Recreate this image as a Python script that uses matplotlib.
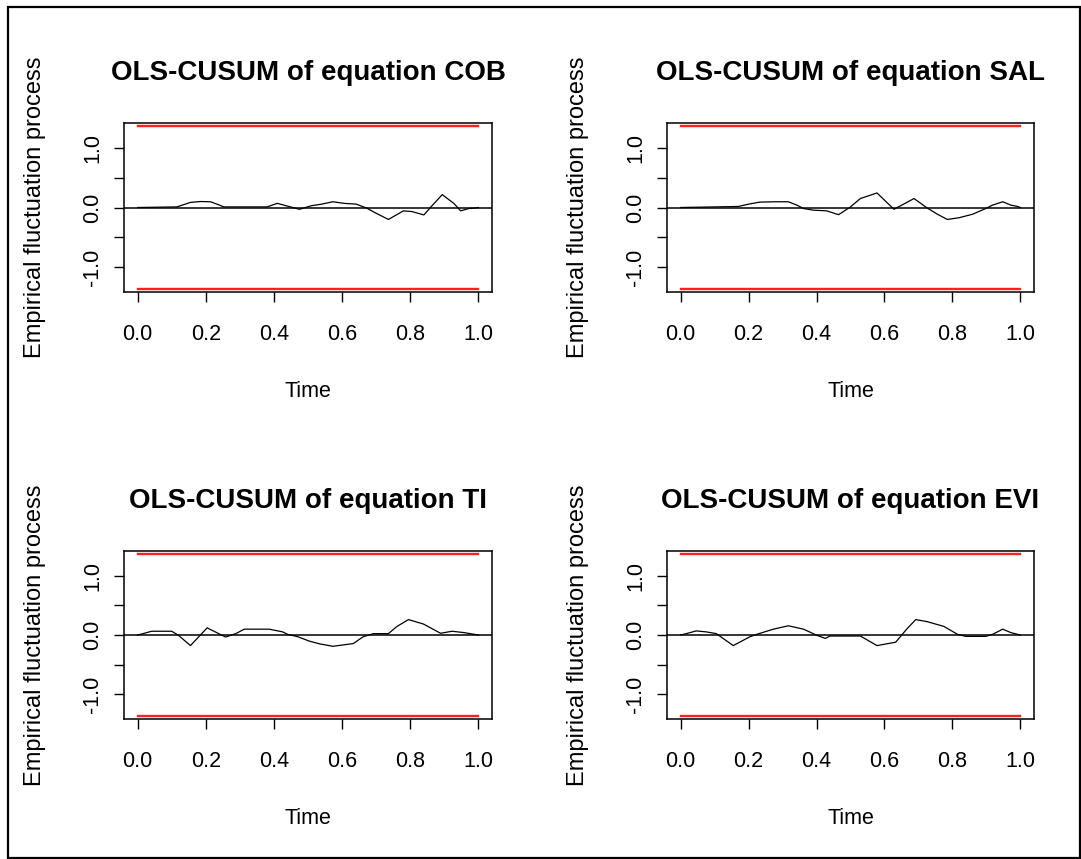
import numpy as np
import matplotlib
matplotlib.use('Agg')
import matplotlib.pyplot as plt
from matplotlib.patches import Rectangle

plt.rcParams['font.family'] = ['Liberation Sans', 'DejaVu Sans']

# empirical fluctuation processes
cob_time = [0.0, 0.115, 0.155, 0.184, 0.214, 0.238, 0.253, 0.38, 0.41, 0.435, 0.475, 0.51, 0.54,
            0.573, 0.608, 0.642, 0.672, 0.70, 0.736, 0.78, 0.805, 0.84, 0.864, 0.894, 0.928,
            0.948, 0.972, 0.987, 1.0]
cob_proc = [0.0, 0.01, 0.085, 0.10, 0.096, 0.045, 0.01, 0.01, 0.07, 0.03, -0.03, 0.03, 0.056,
            0.096, 0.068, 0.056, -0.01, -0.096, -0.20, -0.056, -0.068, -0.124, 0.03, 0.215, 0.068,
            -0.056, -0.017, -0.01, 0.0]

sal_time = [0.0, 0.17, 0.20, 0.233, 0.278, 0.317, 0.342, 0.362, 0.391, 0.43, 0.465, 0.50, 0.529,
            0.578, 0.628, 0.687, 0.726, 0.756, 0.785, 0.82, 0.859, 0.898, 0.918, 0.948, 0.972,
            0.992, 1.0]
sal_proc = [0.0, 0.017, 0.056, 0.09, 0.096, 0.096, 0.04, -0.017, -0.045, -0.056, -0.12, 0.01, 0.15,
            0.243, -0.03, 0.15, -0.01, -0.113, -0.20, -0.17, -0.113, -0.017, 0.04, 0.096, 0.04,
            0.017, 0.0]

ti_time = [0.0, 0.012, 0.041, 0.10, 0.12, 0.155, 0.204, 0.238, 0.258, 0.288, 0.313, 0.386, 0.426,
           0.44, 0.47, 0.504, 0.534, 0.573, 0.633, 0.662, 0.692, 0.736, 0.761, 0.795, 0.839,
           0.889, 0.923, 0.958, 0.982, 1.0]
ti_proc = [0.0, 0.017, 0.063, 0.063, -0.006, -0.178, 0.12, 0.023, -0.034, 0.023, 0.098, 0.098, 0.052,
           0.011, -0.029, -0.103, -0.149, -0.19, -0.144, -0.029, 0.023, 0.023, 0.144, 0.259, 0.184,
           0.029, 0.063, 0.04, 0.017, 0.0]

evi_time = [0.0, 0.017, 0.046, 0.076, 0.105, 0.155, 0.204, 0.224, 0.273, 0.317, 0.362, 0.401, 0.426,
            0.44, 0.529, 0.578, 0.633, 0.667, 0.692, 0.726, 0.775, 0.815, 0.839, 0.898, 0.918,
            0.948, 0.972, 0.992, 1.0]
evi_proc = [0.0, 0.023, 0.069, 0.052, 0.023, -0.178, -0.029, 0.011, 0.098, 0.155, 0.098, -0.006, -0.057,
            -0.017, -0.017, -0.178, -0.121, 0.109, 0.259, 0.224, 0.144, 0.011, -0.023, -0.023, 0.011,
            0.098, 0.04, 0.011, 0.0]

equations = ['COB', 'SAL', 'TI', 'EVI']
times = [cob_time, sal_time, ti_time, evi_time]
procs = [cob_proc, sal_proc, ti_proc, evi_proc]
boundary = 1.358

W, H = 1081, 859
fig = plt.figure(figsize=(W / 100, H / 100), dpi=100)

# axes boxes in pixels (left, top, right, bottom)
boxes = [(124, 123, 492, 292), (667, 123, 1034, 292),
         (124, 551, 492, 719), (667, 551, 1034, 719)]

for eq, t, p, (l, tp, r, b) in zip(equations, times, procs, boxes):
    ax = fig.add_axes([l / W, 1 - b / H, (r - l) / W, (b - tp) / H])
    ax.plot(t, p, color='black', lw=0.9)
    ax.axhline(0, color='black', lw=1.1)
    ax.plot([0, 1], [boundary, boundary], color='#ff2020', lw=1.7)
    ax.plot([0, 1], [-boundary, -boundary], color='#ff2020', lw=1.7)
    ax.set_xlim(-0.04, 1.04)
    ax.set_ylim(-boundary * 1.04, boundary * 1.04)
    ax.set_xticks(np.arange(0, 1.01, 0.2))
    ax.set_xticklabels(['0.0', '0.2', '0.4', '0.6', '0.8', '1.0'])
    ax.set_yticks([-1.0, -0.5, 0.0, 0.5, 1.0])
    ax.set_yticklabels(['-1.0', '', '0.0', '', '1.0'], rotation=90, va='center')
    ax.tick_params(length=7, width=1, labelsize=15.5, color='black')
    ax.tick_params(axis='x', pad=16)
    ax.tick_params(axis='y', pad=8)
    for s in ax.spines.values():
        s.set_linewidth(1.1)
    ax.set_xlabel('Time', fontsize=15.5, labelpad=26)
    ax.set_ylabel('Empirical fluctuation process', fontsize=17, labelpad=26)
    ax.set_title('OLS-CUSUM of equation ' + eq, fontsize=20, fontweight='bold', pad=31)

fig.patches.append(Rectangle((8 / W, 1 / H), (W - 9) / W, (H - 8) / H, transform=fig.transFigure,
                             fill=False, edgecolor='black', lw=1.6))

fig.savefig('out.png', dpi=100, facecolor='white')
